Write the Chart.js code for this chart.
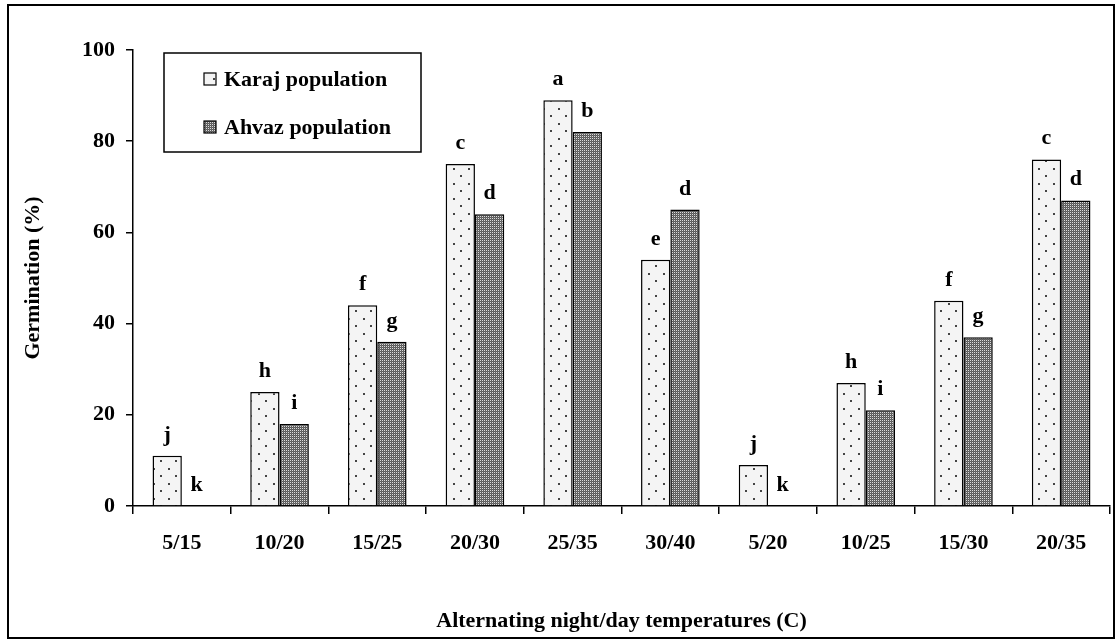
<!DOCTYPE html>
<html>
<head>
<meta charset="utf-8">
<title>Germination</title>
<script src="https://cdn.jsdelivr.net/npm/chart.js@4/dist/chart.umd.min.js"></script>
<style>
  html, body { margin: 0; padding: 0; background: #fff; }
  #wrap { width: 1117px; height: 640px; }
</style>
</head>
<body>
<div id="wrap"><canvas id="germChart" width="1117" height="640"></canvas></div>
<script>
const temps = ['5/15', '10/20', '15/25', '20/30', '25/35', '30/40', '5/20', '10/25', '15/30', '20/35'];
const karaj = [11, 25, 44, 75, 89, 54, 9, 27, 45, 76];
const ahvaz = [0, 18, 36, 64, 82, 65, 0, 21, 37, 67];
const karajLetters = ['j', 'h', 'f', 'c', 'a', 'e', 'j', 'h', 'f', 'c'];
const ahvazLetters = ['k', 'i', 'g', 'd', 'b', 'd', 'k', 'i', 'g', 'd'];
const yTicks = [0, 20, 40, 60, 80, 100];

const FONT = '"Liberation Serif", "Times New Roman", serif';

// light fill with a staggered grid of dark dots
function dotPattern() {
  const c = document.createElement('canvas');
  c.width = 15; c.height = 15;
  const g = c.getContext('2d');
  g.fillStyle = '#f4f4f4';
  g.fillRect(0, 0, 15, 15);
  g.fillStyle = '#444';
  g.fillRect(3, 3, 2, 2);
  g.fillRect(10, 10, 2, 2);
  return g.createPattern(c, 'repeat');
}

// fine dark checker
function checkPattern() {
  const c = document.createElement('canvas');
  c.width = 2; c.height = 2;
  const g = c.getContext('2d');
  g.fillStyle = '#5a5a5a';
  g.fillRect(0, 0, 2, 2);
  g.fillStyle = '#dcdcdc';
  g.fillRect(0, 0, 1, 1);
  g.fillStyle = '#6a6a6a';
  g.fillRect(1, 1, 1, 1);
  return g.createPattern(c, 'repeat');
}

const karajFill = dotPattern();
const ahvazFill = checkPattern();

// outer frame round the whole figure
const framePlugin = {
  id: 'frame',
  beforeDraw(chart) {
    const ctx = chart.ctx;
    ctx.save();
    ctx.fillStyle = '#fff';
    ctx.fillRect(0, 0, chart.width, chart.height);
    ctx.strokeStyle = '#000';
    ctx.lineWidth = 2;
    ctx.strokeRect(8, 5, 1106, 633);
    ctx.restore();
  }
};

// letters above each bar
const letterPlugin = {
  id: 'letters',
  afterDatasetsDraw(chart) {
    const ctx = chart.ctx;
    ctx.save();
    ctx.font = 'bold 22px ' + FONT;
    ctx.fillStyle = '#000';
    ctx.textAlign = 'center';
    ctx.textBaseline = 'alphabetic';
    [karajLetters, ahvazLetters].forEach((letters, i) => {
      chart.getDatasetMeta(i).data.forEach((bar, j) => {
        ctx.fillText(letters[j], bar.x, bar.y - 15);
      });
    });
    ctx.restore();
  }
};

// boxed legend in the upper left
const legendBox = {
  id: 'legendBox',
  afterDraw(chart) {
    const ctx = chart.ctx;
    ctx.save();
    ctx.strokeStyle = '#000';
    ctx.lineWidth = 1.5;
    ctx.strokeRect(164, 53, 257, 99);
    ctx.font = 'bold 22px ' + FONT;
    ctx.textBaseline = 'middle';
    ctx.textAlign = 'left';
    chart.data.datasets.forEach((ds, i) => {
      const y = 79 + i * 48;
      ctx.fillStyle = ds.backgroundColor;
      ctx.fillRect(204, y - 6, 12, 12);
      ctx.lineWidth = 1.2;
      ctx.strokeRect(204, y - 6, 12, 12);
      ctx.fillStyle = '#000';
      ctx.fillText(ds.label, 224, y + 1);
    });
    ctx.restore();
  }
};

const ctx1 = document.getElementById('germChart');
const germChart = new Chart(ctx1, {
  type: 'bar',
  data: {
    labels: temps,
    datasets: [{
      label: 'Karaj population',
      data: karaj,
      backgroundColor: karajFill,
      borderColor: '#000',
      borderWidth: 1.5,
      categoryPercentage: 0.6,
      barPercentage: 1.0
    }, {
      label: 'Ahvaz population',
      data: ahvaz,
      backgroundColor: ahvazFill,
      borderColor: '#000',
      borderWidth: 1.5,
      categoryPercentage: 0.6,
      barPercentage: 1.0
    }]
  },
  options: {
    responsive: false,
    animation: false,
    layout: {
      padding: { left: 0, top: 50, right: 7, bottom: 0 }
    },
    plugins: {
      legend: { display: false },
      tooltip: { enabled: false }
    },
    scales: {
      x: {
        grid: {
          offset: true,
          drawOnChartArea: false,
          drawTicks: true,
          tickLength: 8,
          color: '#000',
          lineWidth: 1.5
        },
        border: { display: true, color: '#000', width: 1.5 },
        ticks: {
          color: '#000',
          padding: 16,
          maxRotation: 0,
          font: { family: FONT, size: 22, weight: 'bold' }
        },
        title: {
          display: true,
          text: 'Alternating night/day temperatures (C)',
          color: '#000',
          padding: { top: 0, bottom: 5 },
          font: { family: FONT, size: 22, weight: 'bold' }
        },
        afterFit(scale) { scale.height = 134; }
      },
      y: {
        min: 0,
        max: 100,
        afterBuildTicks(scale) {
          scale.ticks = yTicks.map(v => ({ value: v }));
        },
        grid: {
          drawOnChartArea: false,
          drawTicks: true,
          tickLength: 7,
          color: '#000',
          lineWidth: 1.5
        },
        border: { display: true, color: '#000', width: 1.5 },
        ticks: {
          color: '#000',
          padding: 11,
          font: { family: FONT, size: 22, weight: 'bold' }
        },
        title: {
          display: true,
          text: 'Germination (%)',
          color: '#000',
          padding: { top: 20, bottom: 0 },
          font: { family: FONT, size: 22, weight: 'bold' }
        },
        afterFit(scale) { scale.width = 133; }
      }
    }
  },
  plugins: [framePlugin, letterPlugin, legendBox]
});
</script>
</body>
</html>
